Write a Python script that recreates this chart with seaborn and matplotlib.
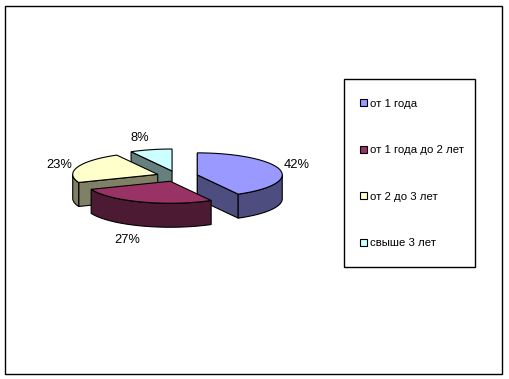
import numpy as np
import matplotlib
matplotlib.use("Agg")
import matplotlib.pyplot as plt
from matplotlib.patches import Polygon, Rectangle, Patch
import seaborn as sns

categories = ["от 1 года", "от 1 года до 2 лет", "от 2 до 3 лет", "свыше 3 лет"]
values = [42, 27, 23, 8]
percent_labels = ["42%", "27%", "23%", "8%"]
top_colors = ["#9999FF", "#993366", "#FFFFCC", "#CCFFFF"]

sns.set_theme(style="white")
plt.rcParams["font.family"] = ["Liberation Sans", "DejaVu Sans"]

W, H = 509, 379
fig = plt.figure(figsize=(W / 100, H / 100), dpi=100, facecolor="white")
ax = fig.add_axes([0, 0, 1, 1])
ax.set_xlim(0, W)
ax.set_ylim(H, 0)
ax.axis("off")

LW = 0.8
CX, CY = 177.2, 176.2   # pie centre in pixels
RX, RY = 85.0, 22.0     # ellipse radii
DEPTH = 24.0
EXPLODE = 20.7
K = RY / RX

palette = sns.color_palette(top_colors)
side_colors = [tuple(c * 0.5 for c in col[:3]) for col in palette]
fractions = np.array(values, dtype=float) / sum(values)
edges = np.concatenate([[0], np.cumsum(fractions)]) * 2 * np.pi
label_offsets = [(17, -4.2), (-14, 37.6), (-18.7, -2.4), (-11.5, -12.2)]


def arc(ax0, ay0, t0, t1):
    t = np.linspace(t0, t1, max(2, int(abs(t1 - t0) * 40)))
    return np.column_stack([ax0 + RX * np.sin(t), ay0 - RY * np.cos(t)])


def draw_wedge(i, z):
    t0, t1 = edges[i], edges[i + 1]
    mid = (t0 + t1) / 2
    ax0 = CX + EXPLODE * np.sin(mid)
    ay0 = CY - EXPLODE * K * np.cos(mid)
    apex = np.array([ax0, ay0])
    down = np.array([0, DEPTH])
    # radial walls that face the viewer
    visible = []
    if np.sin(t0) <= 1e-9:
        visible.append(t0)
    if np.sin(t1) > 1e-9:
        visible.append(t1)
    for t in visible:
        p = arc(ax0, ay0, t, t + 1e-6)[0]
        ax.add_patch(Polygon([apex, p, p + down, apex + down], closed=True,
                             fc=side_colors[i], ec="black", lw=LW, zorder=z))
    # outer wall: only the front half of the rim
    a, b = max(t0, np.pi / 2), min(t1, 3 * np.pi / 2)
    if b > a:
        rim = arc(ax0, ay0, a, b)
        ax.add_patch(Polygon(np.vstack([rim, (rim + down)[::-1]]), closed=True,
                             fc=side_colors[i], ec="black", lw=LW, zorder=z))
    # top face
    ax.add_patch(Polygon(np.vstack([[apex], arc(ax0, ay0, t0, t1)]), closed=True,
                         fc=palette[i], ec="black", lw=LW, zorder=z))
    # percent label
    anchor = (ax0 + RX * np.sin(mid), ay0 - RY * np.cos(mid))
    dx, dy = label_offsets[i]
    ax.text(anchor[0] + dx, anchor[1] + dy, percent_labels[i], ha="center", va="center",
            fontsize=9.3, color="black", zorder=10)


for z, i in enumerate((3, 2, 0, 1)):
    draw_wedge(i, 2 + z)

# outer chart frame
ax.add_patch(Rectangle((5.5, 5.5), 497, 368, fc="none", ec="black", lw=1.0, zorder=1))
# legend frame
ax.add_patch(Rectangle((344.5, 78.5), 130.5, 188, fc="white", ec="black", lw=1.0, zorder=1))

handles = [Patch(fc=palette[i], ec="black", lw=0.8, label=categories[i]) for i in range(4)]
leg = ax.legend(handles=handles, loc="upper left", bbox_to_anchor=(360 / W, 1 - 98.8 / H),
                bbox_transform=fig.transFigure, frameon=False, fontsize=8.2,
                handlelength=0.6, handleheight=0.6, handletextpad=0.3,
                labelspacing=3.2, borderpad=0, borderaxespad=0, labelcolor="black")
leg.set_zorder(8)

fig.savefig("out.png", dpi=100, facecolor="white")
